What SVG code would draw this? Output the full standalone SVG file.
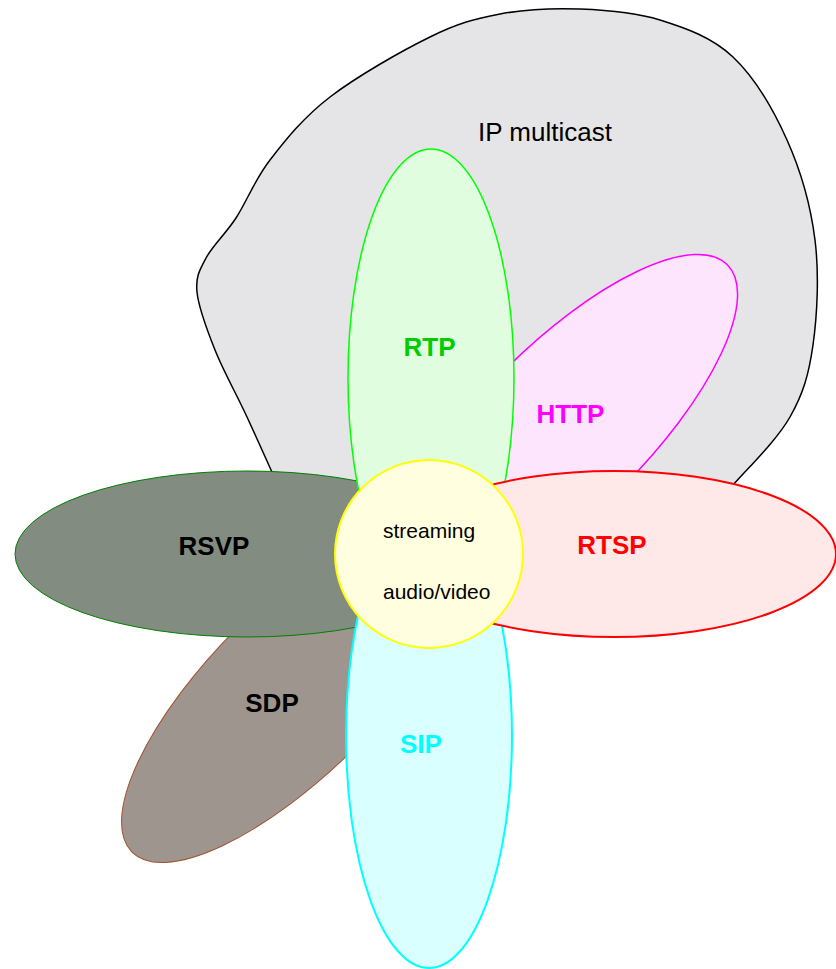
<svg xmlns="http://www.w3.org/2000/svg" width="836" height="969" viewBox="0 0 836 969">
  <style>
    .lbl { font-family: "Liberation Sans", Arial, sans-serif; font-weight: bold; font-size: 26px; text-anchor: middle; }
    .plain { font-family: "Liberation Sans", Arial, sans-serif; font-size: 21px; fill: #000; }
  </style>
  <rect width="836" height="969" fill="#ffffff"/>

  <!-- IP multicast region -->
  <g id="ip-multicast">
    <path fill="#e5e5e7" stroke="#000" stroke-width="1.5"
      d="M280,490 C274.5,477.8 257.8,440.3 247,417
         C236.2,393.7 223.3,370.8 215,350
         C206.7,329.2 198.5,307.3 197,292
         C195.5,276.7 199.5,270.3 206,258
         C212.5,245.7 225.3,234.3 236,218
         C246.7,201.7 254.3,180.2 270,160
         C285.7,139.8 303.3,117.5 330,97
         C356.7,76.5 401.7,50.8 430,37
         C458.3,23.2 475,18.7 500,14
         C525,9.3 553.3,8 580,9
         C606.7,10 634.5,12 660,20
         C685.5,28 711.8,37 733,57
         C754.2,77 773.3,109.5 787,140
         C800.7,170.5 810.7,205.8 815,240
         C819.3,274.2 817.2,315.5 813,345
         C808.8,374.5 803.3,393.7 790,417
         C776.7,440.3 749.7,466.2 733,485
         C716.3,503.8 697.2,522.5 690,530
         L300,530 Z"/>
    <text x="478" y="141" font-family="Liberation Sans, Arial, sans-serif" font-size="26" fill="#000">IP multicast</text>
  </g>

  <!-- HTTP petal -->
  <g id="http">
    <ellipse cx="564" cy="428" rx="231" ry="83" transform="rotate(-45 564 428)" fill="#fde5fd" stroke="#ff00ff" stroke-width="1.5"/>
    <text class="lbl" x="570.5" y="423" fill="#ff00ff">HTTP</text>
  </g>

  <!-- SDP petal -->
  <g id="sdp">
    <ellipse cx="296" cy="688" rx="232" ry="84" transform="rotate(-45 296 688)" fill="#9f958f" stroke="#a0522d" stroke-width="1"/>
    <text class="lbl" x="272" y="712" fill="#000">SDP</text>
  </g>

  <!-- RSVP petal -->
  <g id="rsvp">
    <ellipse cx="247" cy="554" rx="232" ry="83" fill="#828c80" stroke="#008000" stroke-width="1"/>
    <text class="lbl" x="214" y="555" fill="#000">RSVP</text>
  </g>

  <!-- RTP petal -->
  <g id="rtp">
    <ellipse cx="431" cy="378" rx="83" ry="229" fill="#e0fde0" stroke="#00ff00" stroke-width="1.5"/>
    <text class="lbl" x="429.5" y="356" fill="#00cc00">RTP</text>
  </g>

  <!-- SIP petal -->
  <g id="sip">
    <ellipse cx="429" cy="736" rx="83" ry="232" fill="#daffff" stroke="#00ffff" stroke-width="2"/>
    <text class="lbl" x="421" y="753" fill="#00ffff">SIP</text>
  </g>

  <!-- RTSP petal -->
  <g id="rtsp">
    <ellipse cx="614" cy="554" rx="222" ry="83" fill="#ffe8e8" stroke="#ff0000" stroke-width="2"/>
    <text class="lbl" x="612" y="554" font-size="22" fill="#ff0000">RTSP</text>
  </g>

  <!-- centre: streaming audio/video -->
  <g id="streaming">
    <circle cx="429" cy="554" r="94" fill="#ffffe0" stroke="#ffff00" stroke-width="2"/>
    <text class="plain" x="383" y="538">streaming</text>
    <text class="plain" x="383" y="599">audio/video</text>
  </g>
</svg>
